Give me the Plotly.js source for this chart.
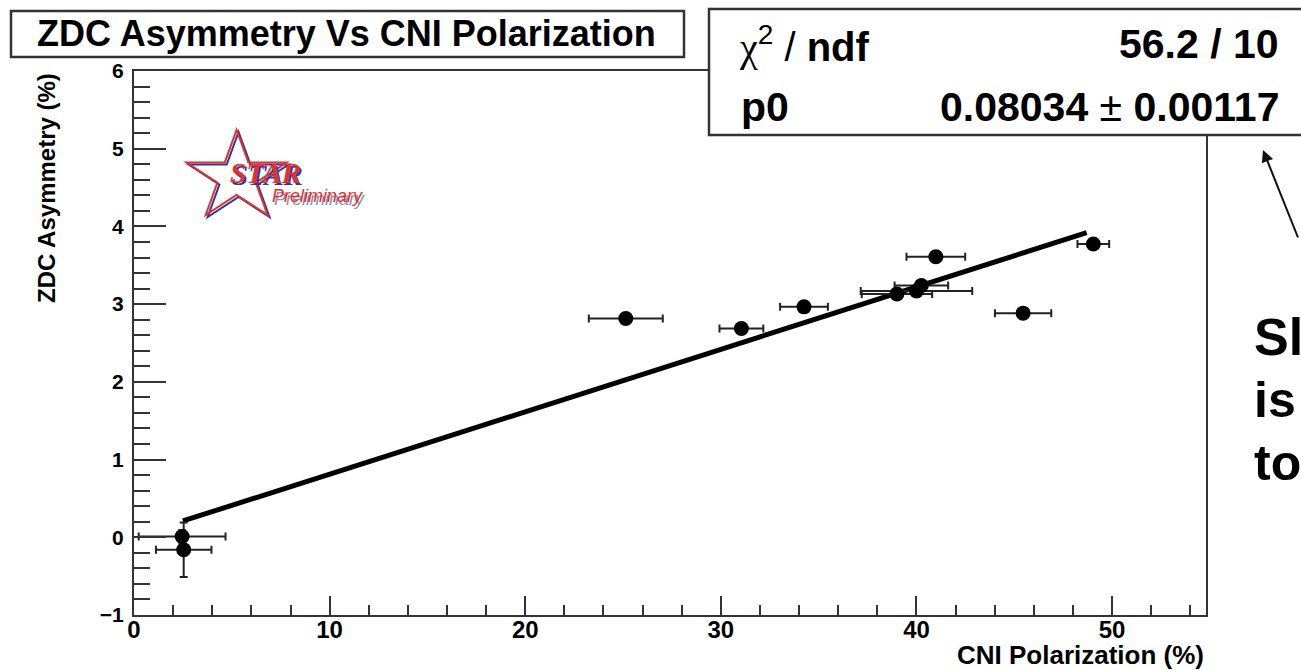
<!DOCTYPE html>
<html>
<head>
<meta charset="utf-8">
<script src="https://cdn.plot.ly/plotly-3.0.1.min.js"></script>
<style>html,body{margin:0;padding:0;background:#fff;overflow:hidden}</style>
</head>
<body>
<div id="chart" style="width:1301px;height:670px"></div>
<script>
// ---- data ----
const polarization    = [2.46, 2.54, 25.14, 31.05, 34.25, 39.0, 40.0, 40.25, 40.99, 45.45, 49.04];
const polarizationErr = [2.22, 1.42, 1.89, 1.12, 1.22, 1.80, 2.85, 1.37, 1.50, 1.44, 0.81];
const asymmetry       = [0.01, -0.16, 2.815, 2.687, 2.965, 3.13, 3.17, 3.24, 3.61, 2.884, 3.774];
const asymmetryErr    = [0.08, 0.35, 0.06, 0.06, 0.06, 0.06, 0.06, 0.06, 0.06, 0.06, 0.06];
const fitX = [2.5, 48.7];
const fitY = [0.21, 3.92];
const titleText = "ZDC Asymmetry Vs CNI Polarization";
const xTitle = "CNI Polarization (%)";
const yTitle = "ZDC Asymmetry (%)";
const chiText = "56.2 / 10";
const p0Value = "0.08034";
const p0Error = "0.00117";

// ---- layout helpers (pixel -> paper) ----
const L = 134, R = 95, T = 71, B = 55, W = 1301, H = 670;
const PW = W - L - R, PH = H - T - B;
const PX = px => (px - L) / PW;
const PY = py => (H - B - py) / PH;

function starPath(cx, cy, Ro, Ri, sx, dx, dy) {
  let d = '';
  for (let i = 0; i < 10; i++) {
    const ang = Math.PI / 5 * i;
    const r = (i % 2 === 0) ? Ro : Ri;
    const px = cx + dx + sx * r * Math.sin(ang);
    const py = cy + dy - r * Math.cos(ang);
    d += (i === 0 ? 'M' : 'L') + PX(px).toFixed(5) + ',' + PY(py).toFixed(5) + ' ';
  }
  return d + 'Z';
}

const dataTraces = [
  {
    x: fitX, y: fitY, type: 'scatter', mode: 'lines',
    line: {color: '#000', width: 5}, hoverinfo: 'skip'
  },
  {
    x: polarization, y: asymmetry, type: 'scatter', mode: 'markers',
    marker: {color: '#000', size: 15, symbol: 'circle'},
    error_x: {type: 'data', array: polarizationErr, visible: true, color: '#222', thickness: 2, width: 4},
    error_y: {type: 'data', array: asymmetryErr, visible: true, color: '#222', thickness: 2, width: 4}
  }
];

const axisCommon = {
  showgrid: false, zeroline: false, showline: true, linecolor: '#333', linewidth: 2,
  mirror: true, ticks: 'inside', tickcolor: '#333', tickwidth: 2
};

const layout = {
  width: W, height: H,
  margin: {l: L, r: R, t: T, b: B, pad: 0},
  paper_bgcolor: '#fff', plot_bgcolor: '#fff',
  showlegend: false,
  xaxis: Object.assign({}, axisCommon, {
    range: [0, 54.8], tick0: 0, dtick: 10, ticklen: 19,
    tickfont: {family: 'Liberation Sans', size: 24, color: '#000', weight: 'bold'},
    ticklabelstandoff: -8,
    minor: {dtick: 2, ticks: 'inside', ticklen: 10, tickcolor: '#333', tickwidth: 2}
  }),
  yaxis: Object.assign({}, axisCommon, {
    range: [-1, 6], tick0: 0, dtick: 1, ticklen: 32,
    tickfont: {family: 'Liberation Sans', size: 21, color: '#000', weight: 'bold'},
    ticklabelstandoff: 4,
    minor: {dtick: 0.2, ticks: 'inside', ticklen: 16, tickcolor: '#333', tickwidth: 2}
  }),
  shapes: [
    // title box
    {type: 'rect', xref: 'paper', yref: 'paper', x0: PX(11), x1: PX(684), y0: PY(57), y1: PY(11),
     line: {color: '#333', width: 2.5}, fillcolor: '#fff', layer: 'above'},
    // stats box
    {type: 'rect', xref: 'paper', yref: 'paper', x0: PX(709), x1: PX(1330), y0: PY(135), y1: PY(9),
     line: {color: '#333', width: 2.5}, fillcolor: '#fff', layer: 'above'},
    // STAR logo outline (blue offset, then red)
    {type: 'path', xref: 'paper', yref: 'paper', path: starPath(236.6, 177, 47, 18, 1.12, 2, 2),
     line: {color: '#2a3a9e', width: 2}, layer: 'above'},
    {type: 'path', xref: 'paper', yref: 'paper', path: starPath(236.6, 177, 47, 18, 1.12, 0, 0),
     line: {color: '#e2302c', width: 2}, layer: 'above'}
  ],
  annotations: [
    {xref: 'paper', yref: 'paper', x: PX(346), y: PY(34), xanchor: 'center', yanchor: 'middle',
     text: '<b>' + titleText + '</b>', showarrow: false,
     font: {family: 'Liberation Sans', size: 36, color: '#000'}},
    {xref: 'paper', yref: 'paper', x: PX(737), y: PY(44), xanchor: 'left', yanchor: 'middle',
     text: "<span style='font-family:Liberation Serif'>χ</span><sup>2</sup> / <b>ndf</b>", showarrow: false,
     font: {family: 'Liberation Sans', size: 40, color: '#000'}},
    {xref: 'paper', yref: 'paper', x: PX(1281), y: PY(44), xanchor: 'right', yanchor: 'middle',
     text: '<b>' + chiText + '</b>', showarrow: false,
     font: {family: 'Liberation Sans', size: 41, color: '#000'}},
    {xref: 'paper', yref: 'paper', x: PX(739), y: PY(107), xanchor: 'left', yanchor: 'middle',
     text: '<b>p0</b>', showarrow: false,
     font: {family: 'Liberation Sans', size: 41, color: '#000'}},
    {xref: 'paper', yref: 'paper', x: PX(1281), y: PY(107), xanchor: 'right', yanchor: 'middle',
     text: '<b>' + p0Value + '</b> ± <b>' + p0Error + '</b>', showarrow: false,
     font: {family: 'Liberation Sans', size: 41, color: '#000'}},
    // axis titles
    {xref: 'paper', yref: 'paper', x: 1, y: PY(655), xanchor: 'right', yanchor: 'middle',
     text: '<b>' + xTitle + '</b>', showarrow: false,
     font: {family: 'Liberation Sans', size: 26, color: '#000'}},
    {xref: 'paper', yref: 'paper', x: PX(46), y: 1, xanchor: 'center', yanchor: 'top', textangle: -90,
     text: '<b>' + yTitle + '</b>', showarrow: false,
     font: {family: 'Liberation Sans', size: 24, color: '#000'}},
    // STAR Preliminary logo text
    {xref: 'paper', yref: 'paper', x: PX(230), y: PY(175), xanchor: 'left', yanchor: 'middle',
     text: '<b><i>STAR</i></b>', showarrow: false,
     font: {family: 'Liberation Serif', size: 29, color: '#2a3a9e'}},
    {xref: 'paper', yref: 'paper', x: PX(228), y: PY(173), xanchor: 'left', yanchor: 'middle',
     text: '<b><i>STAR</i></b>', showarrow: false,
     font: {family: 'Liberation Serif', size: 29, color: '#e2302c'}},
    {xref: 'paper', yref: 'paper', x: PX(272), y: PY(199), xanchor: 'left', yanchor: 'middle',
     text: '<i>Preliminary</i>', showarrow: false,
     font: {family: 'Liberation Sans', size: 18, color: '#8a8fb8'}},
    {xref: 'paper', yref: 'paper', x: PX(270), y: PY(196), xanchor: 'left', yanchor: 'middle',
     text: '<i>Preliminary</i>', showarrow: false,
     font: {family: 'Liberation Sans', size: 18, color: '#e2302c'}},
    // arrow pointing at p0 value
    {xref: 'paper', yref: 'paper', x: PX(1263), y: PY(150), ax: 40, ay: 95, text: ' ',
     showarrow: true, arrowhead: 2, arrowsize: 1.2, arrowwidth: 2, arrowcolor: '#111'},
    // clipped side text
    {xref: 'paper', yref: 'paper', x: PX(1252), y: PY(337), xanchor: 'left', yanchor: 'middle',
     text: '<b>Sl</b>', showarrow: false, font: {family: 'Liberation Sans', size: 52, color: '#000'}},
    {xref: 'paper', yref: 'paper', x: PX(1252), y: PY(400), xanchor: 'left', yanchor: 'middle',
     text: '<b>is</b>', showarrow: false, font: {family: 'Liberation Sans', size: 50, color: '#000'}},
    {xref: 'paper', yref: 'paper', x: PX(1252), y: PY(463), xanchor: 'left', yanchor: 'middle',
     text: '<b>to</b>', showarrow: false, font: {family: 'Liberation Sans', size: 50, color: '#000'}}
  ]
};

Plotly.newPlot('chart', dataTraces, layout, {staticPlot: true, displayModeBar: false});
</script>
</body>
</html>
